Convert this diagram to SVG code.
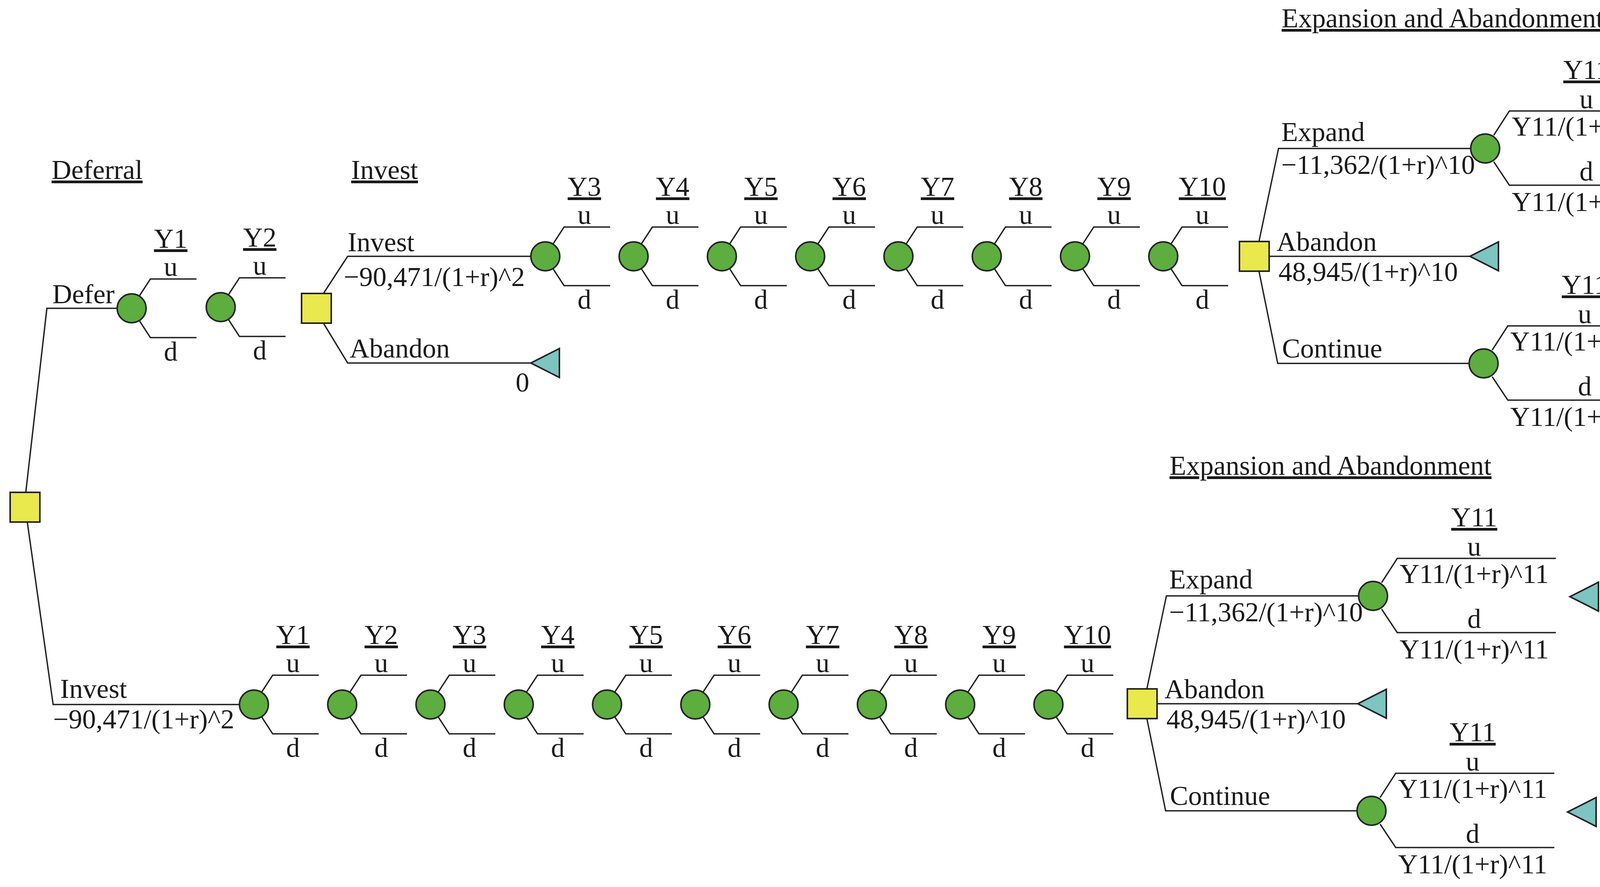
<svg xmlns="http://www.w3.org/2000/svg" xmlns:xlink="http://www.w3.org/1999/xlink" width="4404" height="2270" viewBox="0 0 4404 2270">
<style>
text{font-family:"Liberation Serif","Times New Roman",serif;font-size:70px;fill:#1a1a1a}
.c{text-anchor:middle}
.ul{text-decoration:underline}
.ln{fill:none;stroke:#222;stroke-width:3.5}
.sq{fill:#E9E84D;stroke:#222;stroke-width:4}
.ch{fill:#5DAD3F;stroke:#222;stroke-width:4}
.tr{fill:#7CC5C0;stroke:#222;stroke-width:4}
</style>
<defs>
<g id="chance">
<path class="ln" d="M20,-32 L48,-75 H166 M20,32 L48,75 H166"/>
<circle class="ch" r="37"/>
</g>
<g id="chance11">
<path class="ln" d="M22,-34 L62,-96 H468 M22,34 L62,94 H468"/>
<circle class="ch" r="37"/>
</g>
<rect id="dec" class="sq" x="-38" y="-38" width="76" height="76"/>
<polygon id="tri" class="tr" points="0,0 73,-37 73,37"/>
</defs>
<rect width="4404" height="2270" fill="#fff"/>

<g id="connectors">
<path class="ln" d="M66,1260 L120,789 H302"/>
<path class="ln" d="M70,1337 L136,1803 H614"/>
<path class="ln" d="M828,751 L890,656 H1359"/>
<path class="ln" d="M828,827 L890,929 H1359"/>
<g id="conn-top-right">
<path class="ln" d="M3223,618 L3273,380 H3765"/>
<path class="ln" d="M3249,656 H3763"/>
<path class="ln" d="M3223,694 L3271,930 H3761"/>
</g>
<g transform="translate(-287,1145)">
<path class="ln" d="M3223,618 L3273,380 H3765"/>
<path class="ln" d="M3249,656 H3763"/>
<path class="ln" d="M3223,694 L3271,930 H3761"/>
</g>
</g>

<g id="labels">
<text x="132" y="458" class="ul">Deferral</text>
<text x="899" y="458" class="ul">Invest</text>
<text x="134" y="776">Defer</text>
<text x="154" y="1786">Invest</text>
<text x="136" y="1864">−90,471/(1+r)^2</text>
<text x="890" y="643">Invest</text>
<text x="880" y="732">−90,471/(1+r)^2</text>
<text x="895" y="915">Abandon</text>
<text x="1320" y="1002">0</text>
</g>

<g id="root"><use href="#dec" x="64" y="1298"/></g>

<g id="top-Y1" transform="translate(337,789)"><use href="#chance"/><text class="c ul" x="100" y="-155">Y1</text><text class="c" x="100" y="-83">u</text><text class="c" x="100" y="134">d</text></g>
<g id="top-Y2" transform="translate(565,786)"><use href="#chance"/><text class="c ul" x="100" y="-155">Y2</text><text class="c" x="100" y="-83">u</text><text class="c" x="100" y="134">d</text></g>
<g id="top-invest"><use href="#dec" x="810" y="789"/></g>
<g id="top-abandon-end"><use href="#tri" x="1359" y="929"/></g>
<g id="top-Y3" transform="translate(1396,656)"><use href="#chance"/><text class="c ul" x="100" y="-155">Y3</text><text class="c" x="100" y="-83">u</text><text class="c" x="100" y="134">d</text></g>
<g id="top-Y4" transform="translate(1622,656)"><use href="#chance"/><text class="c ul" x="100" y="-155">Y4</text><text class="c" x="100" y="-83">u</text><text class="c" x="100" y="134">d</text></g>
<g id="top-Y5" transform="translate(1848,656)"><use href="#chance"/><text class="c ul" x="100" y="-155">Y5</text><text class="c" x="100" y="-83">u</text><text class="c" x="100" y="134">d</text></g>
<g id="top-Y6" transform="translate(2074,656)"><use href="#chance"/><text class="c ul" x="100" y="-155">Y6</text><text class="c" x="100" y="-83">u</text><text class="c" x="100" y="134">d</text></g>
<g id="top-Y7" transform="translate(2300,656)"><use href="#chance"/><text class="c ul" x="100" y="-155">Y7</text><text class="c" x="100" y="-83">u</text><text class="c" x="100" y="134">d</text></g>
<g id="top-Y8" transform="translate(2526,656)"><use href="#chance"/><text class="c ul" x="100" y="-155">Y8</text><text class="c" x="100" y="-83">u</text><text class="c" x="100" y="134">d</text></g>
<g id="top-Y9" transform="translate(2752,656)"><use href="#chance"/><text class="c ul" x="100" y="-155">Y9</text><text class="c" x="100" y="-83">u</text><text class="c" x="100" y="134">d</text></g>
<g id="top-Y10" transform="translate(2978,656)"><use href="#chance"/><text class="c ul" x="100" y="-155">Y10</text><text class="c" x="100" y="-83">u</text><text class="c" x="100" y="134">d</text></g>

<g id="top-exp" transform="translate(3211,656)">
<use href="#dec"/>
<text x="70" y="-586" class="ul">Expansion and Abandonment</text>
<text x="69" y="-295">Expand</text>
<text x="69" y="-211">−11,362/(1+r)^10</text>
<text x="57" y="-14">Abandon</text>
<text x="62" y="63">48,945/(1+r)^10</text>
<text x="71" y="259">Continue</text>
</g>
<g id="top-exp-Y11a" transform="translate(3802,380)"><use href="#chance11"/>
<text class="c ul" x="259" y="-178">Y11</text><text class="c" x="259" y="-103">u</text><text class="c" x="259" y="-33">Y11/(1+r)^11</text><text class="c" x="259" y="82">d</text><text class="c" x="259" y="160">Y11/(1+r)^11</text></g>
<g id="top-exp-end1"><use href="#tri" x="4306" y="382"/></g>
<g id="top-abandon2-end"><use href="#tri" x="3763" y="656"/></g>
<g id="top-exp-Y11b" transform="translate(3798,930)"><use href="#chance11"/>
<text class="c ul" x="259" y="-178">Y11</text><text class="c" x="259" y="-103">u</text><text class="c" x="259" y="-33">Y11/(1+r)^11</text><text class="c" x="259" y="82">d</text><text class="c" x="259" y="160">Y11/(1+r)^11</text></g>
<g id="top-exp-end2"><use href="#tri" x="4300" y="933"/></g>

<g id="bot-Y1" transform="translate(650,1803)"><use href="#chance"/><text class="c ul" x="100" y="-155">Y1</text><text class="c" x="100" y="-83">u</text><text class="c" x="100" y="134">d</text></g>
<g id="bot-Y2" transform="translate(876,1803)"><use href="#chance"/><text class="c ul" x="100" y="-155">Y2</text><text class="c" x="100" y="-83">u</text><text class="c" x="100" y="134">d</text></g>
<g id="bot-Y3" transform="translate(1102,1803)"><use href="#chance"/><text class="c ul" x="100" y="-155">Y3</text><text class="c" x="100" y="-83">u</text><text class="c" x="100" y="134">d</text></g>
<g id="bot-Y4" transform="translate(1328,1803)"><use href="#chance"/><text class="c ul" x="100" y="-155">Y4</text><text class="c" x="100" y="-83">u</text><text class="c" x="100" y="134">d</text></g>
<g id="bot-Y5" transform="translate(1554,1803)"><use href="#chance"/><text class="c ul" x="100" y="-155">Y5</text><text class="c" x="100" y="-83">u</text><text class="c" x="100" y="134">d</text></g>
<g id="bot-Y6" transform="translate(1780,1803)"><use href="#chance"/><text class="c ul" x="100" y="-155">Y6</text><text class="c" x="100" y="-83">u</text><text class="c" x="100" y="134">d</text></g>
<g id="bot-Y7" transform="translate(2006,1803)"><use href="#chance"/><text class="c ul" x="100" y="-155">Y7</text><text class="c" x="100" y="-83">u</text><text class="c" x="100" y="134">d</text></g>
<g id="bot-Y8" transform="translate(2232,1803)"><use href="#chance"/><text class="c ul" x="100" y="-155">Y8</text><text class="c" x="100" y="-83">u</text><text class="c" x="100" y="134">d</text></g>
<g id="bot-Y9" transform="translate(2458,1803)"><use href="#chance"/><text class="c ul" x="100" y="-155">Y9</text><text class="c" x="100" y="-83">u</text><text class="c" x="100" y="134">d</text></g>
<g id="bot-Y10" transform="translate(2684,1803)"><use href="#chance"/><text class="c ul" x="100" y="-155">Y10</text><text class="c" x="100" y="-83">u</text><text class="c" x="100" y="134">d</text></g>

<g id="bot-exp" transform="translate(2924,1801)">
<use href="#dec"/>
<text x="70" y="-586" class="ul">Expansion and Abandonment</text>
<text x="69" y="-295">Expand</text>
<text x="69" y="-211">−11,362/(1+r)^10</text>
<text x="57" y="-14">Abandon</text>
<text x="62" y="63">48,945/(1+r)^10</text>
<text x="71" y="259">Continue</text>
</g>
<g id="bot-exp-Y11a" transform="translate(3515,1525)"><use href="#chance11"/>
<text class="c ul" x="259" y="-178">Y11</text><text class="c" x="259" y="-103">u</text><text class="c" x="259" y="-33">Y11/(1+r)^11</text><text class="c" x="259" y="82">d</text><text class="c" x="259" y="160">Y11/(1+r)^11</text></g>
<g id="bot-exp-end1"><use href="#tri" x="4019" y="1527"/></g>
<g id="bot-abandon-end"><use href="#tri" x="3476" y="1801"/></g>
<g id="bot-exp-Y11b" transform="translate(3511,2075)"><use href="#chance11"/>
<text class="c ul" x="259" y="-178">Y11</text><text class="c" x="259" y="-103">u</text><text class="c" x="259" y="-33">Y11/(1+r)^11</text><text class="c" x="259" y="82">d</text><text class="c" x="259" y="160">Y11/(1+r)^11</text></g>
<g id="bot-exp-end2"><use href="#tri" x="4013" y="2078"/></g>
</svg>
